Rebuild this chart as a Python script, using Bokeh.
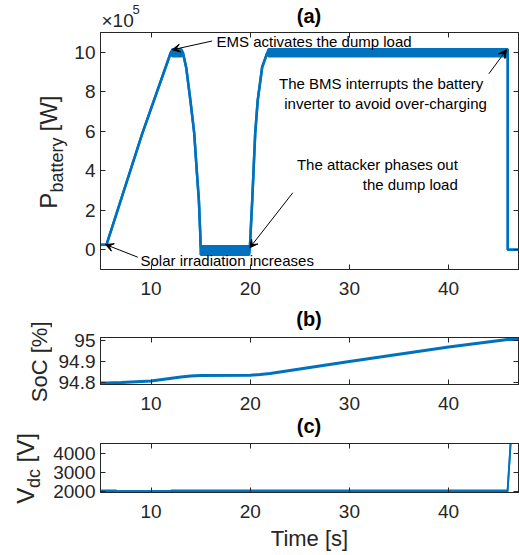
from bokeh.plotting import figure
from bokeh.layouts import column, row
from bokeh.models import (Range1d, LinearAxis, FixedTicker, CustomJSTickFormatter,
                          Label, Arrow, VeeHead)
from bokeh.embed import file_html
from bokeh.resources import INLINE

# ---------------- data ----------------
x_ticks = [10, 20, 30, 40]

# (a) battery power [W]: upper / lower envelope of the oscillating trace
t_p = [4.9, 5.5, 9.1, 12.0, 12.15, 13.05, 13.2, 13.55, 13.98, 14.35, 14.58, 14.82,
       14.96, 15.0, 19.9, 19.95, 20.2, 20.5, 20.75, 21.2, 21.7, 21.85, 45.97, 45.97, 47.05]
p_hi = [0.25e5, 0.25e5, 5.87e5, 10.0e5, 10.15e5, 10.15e5, 10.0e5, 9.2e5, 7.5e5, 5.9e5, 4.2e5, 2.5e5,
        0.8e5, 0.18e5, 0.18e5, 0.0, 2.5e5, 5.9e5, 7.55e5, 9.24e5, 9.95e5, 10.15e5, 10.15e5, 0.0, 0.0]
p_lo = [0.25e5, 0.25e5, 5.87e5, 10.0e5, 9.8e5, 9.8e5, 10.0e5, 9.2e5, 7.5e5, 5.9e5, 4.2e5, 2.5e5,
        0.8e5, -0.25e5, -0.25e5, 0.0, 2.5e5, 5.9e5, 7.55e5, 9.24e5, 9.95e5, 9.8e5, 9.8e5, 0.0, 0.0]
p_ticks = [0, 2e5, 4e5, 6e5, 8e5, 10e5]

# (b) state of charge [%]
t_s = [4.9, 5.5, 7.0, 8.5, 10.0, 11.5, 13.0, 14.0, 15.0, 20.0, 21.0, 22.0, 30.0, 40.0, 45.95, 47.05]
soc = [94.797, 94.797, 94.799, 94.803, 94.807, 94.816, 94.825, 94.830, 94.833, 94.834, 94.837,
       94.842, 94.899, 94.967, 95.003, 95.003]
soc_ticks = [94.8, 94.9, 95.0]

# (c) dc-link voltage [V]: upper / lower envelope
t_v = [4.9, 6.5, 6.5, 12.0, 12.0, 45.95, 46.27]
v_hi = [2040, 2040, 2005, 2005, 2040, 2040, 4650]
v_lo = [1975, 1975, 1995, 1995, 1975, 1975, 4650]
v_ticks = [2000, 3000, 4000]

# ---------------- styling ----------------
BLUE = "#0072BD"
AX = "#262626"
FONT = "Liberation Sans"
XR = (4.9, 47.05)
ROT = 1.5707963267948966


def make_fig(width, height, ylim, left, bottom, yticks, fmt, top=0):
    p = figure(width=width, height=height, x_range=Range1d(*XR), y_range=Range1d(*ylim),
               output_backend="svg", toolbar_location=None, tools="", title=None,
               min_border_left=left, min_border_right=1, min_border_top=top,
               min_border_bottom=bottom)
    p.grid.visible = False
    p.outline_line_color = AX
    p.outline_line_width = 1
    p.background_fill_color = "white"
    p.border_fill_color = "white"
    xb, yl = p.xaxis[0], p.yaxis[0]
    for ax, ticks in ((xb, x_ticks), (yl, yticks)):
        ax.ticker = FixedTicker(ticks=ticks)
        ax.major_tick_in = 5
        ax.major_tick_out = 0
        ax.minor_tick_line_color = None
        ax.axis_line_color = AX
        ax.major_tick_line_color = AX
        ax.major_label_text_font = FONT
        ax.major_label_text_font_size = "19px"
        ax.major_label_text_color = AX
        ax.axis_label_text_font = FONT
        ax.axis_label_text_font_size = "22px"
        ax.axis_label_text_font_style = "normal"
        ax.axis_label_text_color = AX
    xb.major_label_standoff = 12
    yl.major_label_standoff = 5
    yl.formatter = CustomJSTickFormatter(code=fmt)
    xb.formatter = CustomJSTickFormatter(code="return tick.toFixed(0);")
    # tick marks only on the top and right edges (box style)
    for loc, ticks in (("above", x_ticks), ("right", yticks)):
        ax = LinearAxis(ticker=FixedTicker(ticks=ticks), major_tick_in=5, major_tick_out=0,
                        minor_tick_line_color=None, major_label_text_font_size="0px",
                        formatter=CustomJSTickFormatter(code="return '';"),
                        major_label_standoff=0, axis_line_color=AX, major_tick_line_color=AX)
        p.add_layout(ax, loc)
    return p, xb, yl


def text_box(width, height, xr, yr, left=0, right=0):
    """Plain area (no axes) holding titles / axis-label parts, in page-pixel coordinates."""
    f = figure(width=width, height=height, x_range=Range1d(*xr), y_range=Range1d(*yr),
               x_axis_type=None, y_axis_type=None, output_backend="svg",
               toolbar_location=None, tools="", title=None,
               min_border_left=left, min_border_right=right, min_border_top=0,
               min_border_bottom=0)
    f.grid.visible = False
    f.outline_line_color = None
    f.background_fill_color = "white"
    f.border_fill_color = "white"
    return f


def lab(p, x, y, text, size, align="left", angle=0.0, bold=False, color="black"):
    p.add_layout(Label(x=x, y=y, text=text, text_font=FONT, text_font_size=f"{size}px",
                       text_align=align, text_baseline="middle", angle=angle,
                       text_font_style="bold" if bold else "normal", text_color=color))


def arrow(p, xs, ys, xe, ye):
    p.add_layout(Arrow(x_start=xs, y_start=ys, x_end=xe, y_end=ye, line_color="black",
                       line_width=1,
                       end=VeeHead(size=8, fill_color="black", line_color="black",
                                   line_width=1)))


# ---------------- (a) ----------------
pa, xa, yla = make_fig(451, 273, (-1e5, 11e5), 32, 36, p_ticks,
                       "return (tick/1e5).toFixed(0);")
pa.varea(x=t_p, y1=p_lo, y2=p_hi, fill_color=BLUE)
pa.line(t_p, p_hi, line_color=BLUE, line_width=2.5)
pa.line(t_p, p_lo, line_color=BLUE, line_width=2.5)

lab(pa, 8.93, -0.519e5, "Solar irradiation increases", 15)
arrow(pa, 8.66, -0.377e5, 5.40, 0.266e5)
lab(pa, 16.6, 10.53e5, "EMS activates the dump load", 15)
arrow(pa, 16.16, 10.57e5, 12.13, 10.124e5)
lab(pa, 33.2, 8.403e5, "The BMS interrupts the battery", 15, align="center")
lab(pa, 33.64, 7.39e5, "inverter to avoid over-charging", 15, align="center")
arrow(pa, 44.06, 8.909e5, 45.84, 10.124e5)
lab(pa, 40.93, 4.301e5, "The attacker phases out", 15, align="right")
lab(pa, 40.93, 3.304e5, "the dump load", 15, align="right")
arrow(pa, 24.29, 2.884e5, 19.955, 0.099e5)

ha = text_box(451, 32, (100, 518), (32, 0), left=32, right=1)
lab(ha, 308.5, 15.5, "(a)", 20, align="center", bold=True)
lab(ha, 101, 20.1, "\u00d710", 19, color=AX)
lab(ha, 132, 8.8, "5", 13, color=AX)

ya = text_box(68, 305, (0, 68), (305, 0))
lab(ya, 48.4, 208.3, "P", 24, angle=ROT, color=AX)
lab(ya, 56.8, 192.0, "battery", 18, angle=ROT, color=AX)
lab(ya, 48.4, 131.0, "[W]", 24, angle=ROT, color=AX)

# ---------------- (b) ----------------
pb, xbb, ylb = make_fig(467, 84, (94.79, 95.012), 48, 31, soc_ticks,
                        "return Number(tick.toFixed(1)).toString();", top=6)
pb.line(t_s, soc, line_color=BLUE, line_width=3)

hb = text_box(467, 26, (100, 518), (331, 305), left=48, right=1)
lab(hb, 308.5, 318.6, "(b)", 20, align="center", bold=True)

yb = text_box(52, 110, (0, 52), (415, 305))
lab(yb, 39.1, 401.7, "SoC [%]", 22, angle=ROT, color=AX)

# ---------------- (c) ----------------
pc, xc, ylc = make_fig(472, 112, (1930, 4500), 53, 63, v_ticks, "return tick.toFixed(0);")
pc.varea(x=t_v, y1=v_lo, y2=v_hi, fill_color=BLUE)
pc.line(t_v, v_hi, line_color=BLUE, line_width=1.8)
pc.line(t_v, v_lo, line_color=BLUE, line_width=1.8)
xc.axis_label = "Time [s]"
xc.axis_label_standoff = 5

hc = text_box(472, 28, (100, 518), (443, 415), left=53, right=1)
lab(hc, 308.5, 425.0, "(c)", 20, align="center", bold=True)

yc = text_box(47, 140, (0, 47), (555, 415))
lab(yc, 25.0, 503.3, "V", 24, angle=ROT, color=AX)
lab(yc, 33.8, 487.5, "dc", 18, angle=ROT, color=AX)
lab(yc, 25.0, 462.0, "[V]", 24, angle=ROT, color=AX)

layout = column(
    row(ya, column(ha, pa, spacing=0), spacing=0),
    row(yb, column(hb, pb, spacing=0), spacing=0),
    row(yc, column(hc, pc, spacing=0), spacing=0),
    spacing=0,
)
open("out.html", "w").write(file_html(layout, INLINE))
